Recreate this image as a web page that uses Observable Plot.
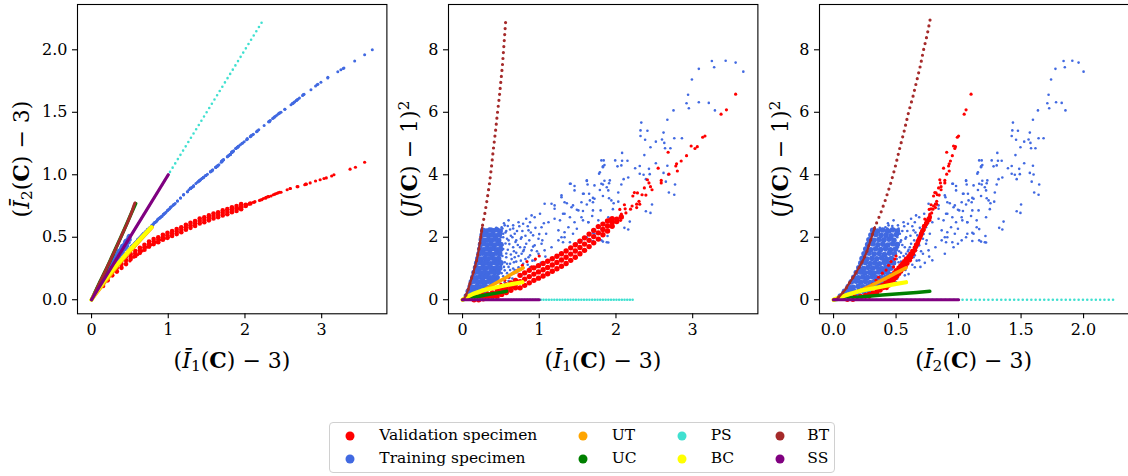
<!DOCTYPE html>
<html><head><meta charset="utf-8">
<script src="https://cdn.jsdelivr.net/npm/d3@7"></script>
<script src="https://cdn.jsdelivr.net/npm/@observablehq/plot@0.6"></script>
<style>
body{margin:0;background:#fff;}
#fig{position:relative;width:1128px;height:476px;overflow:hidden;font-family:"DejaVu Serif",serif;color:#000;background:#fff;}
.panel{position:absolute;top:0;}
.panel text{font-family:"DejaVu Serif",serif !important;font-size:16px;}
.xlab,.ylab{position:absolute;font-size:22px;white-space:nowrap;line-height:1;}
.xlab{transform:translate(-50%,-50%);}
.ylab{transform:translate(-50%,-50%) rotate(-90deg);}
sub{font-size:70%;vertical-align:-0.25em;line-height:0}
sup{font-size:70%;vertical-align:0.5em;line-height:0}
#legend{position:absolute;left:329px;top:422px;width:506px;height:51px;border:1px solid #d0d0d0;border-radius:4px;box-sizing:border-box;background:#fff}
.lm{position:absolute;width:9px;height:9px;border-radius:50%;transform:translate(-50%,-50%)}
.lt{position:absolute;font-size:15.5px;transform:translateY(-50%);white-space:nowrap;line-height:1}
</style></head><body><div id="fig"></div>
<script>
// ---------- data: each point is [I1-3, I2-3, (J-1)^2] ----------
const trainCore = [
[0.265,0.313,2.22],[0.31,0.353,2.20],[0.355,0.392,2.23],[0.40,0.432,2.21],[0.445,0.472,2.24],[0.49,0.511,2.20],
[0.255,0.299,2.07],[0.30,0.339,2.09],[0.345,0.380,2.06],[0.39,0.420,2.08],[0.435,0.461,2.05],[0.48,0.502,2.09],
[0.245,0.283,1.92],[0.29,0.323,1.90],[0.335,0.363,1.93],[0.38,0.403,1.91],[0.425,0.443,1.94],[0.47,0.483,1.90],
[0.235,0.273,1.77],[0.28,0.314,1.79],[0.325,0.354,1.76],[0.37,0.394,1.78],[0.415,0.434,1.75],[0.46,0.474,1.79],[0.50,0.51,1.77],
[0.225,0.258,1.62],[0.27,0.298,1.60],[0.315,0.337,1.63],[0.36,0.377,1.61],[0.405,0.416,1.64],[0.45,0.456,1.60],[0.495,0.496,1.62],
[0.215,0.244,1.47],[0.26,0.284,1.49],[0.305,0.325,1.46],[0.35,0.365,1.48],[0.395,0.406,1.45],[0.44,0.446,1.49],[0.485,0.487,1.47],
[0.20,0.228,1.32],[0.245,0.267,1.30],[0.29,0.307,1.33],[0.335,0.346,1.31],[0.38,0.385,1.34],[0.425,0.424,1.30],[0.47,0.464,1.32],
[0.185,0.218,1.17],[0.23,0.255,1.19],[0.275,0.293,1.16],[0.32,0.33,1.18],[0.365,0.367,1.15],[0.41,0.405,1.19],[0.455,0.442,1.17],[0.50,0.48,1.18],
[0.17,0.202,1.02],[0.215,0.239,1.00],[0.26,0.275,1.03],[0.305,0.312,1.01],[0.35,0.348,1.04],[0.395,0.385,1.00],[0.44,0.421,1.02],[0.485,0.458,1.01],
[0.15,0.182,0.87],[0.195,0.218,0.89],[0.24,0.253,0.86],[0.285,0.289,0.88],[0.33,0.325,0.85],[0.375,0.361,0.89],[0.42,0.397,0.87],[0.465,0.432,0.88],
[0.135,0.162,0.72],[0.18,0.198,0.70],[0.225,0.235,0.73],[0.27,0.271,0.71],[0.315,0.307,0.74],[0.36,0.343,0.70],[0.405,0.38,0.72],[0.45,0.416,0.71],
[0.115,0.142,0.57],[0.16,0.18,0.59],[0.205,0.217,0.56],[0.25,0.254,0.58],[0.295,0.292,0.55],[0.34,0.329,0.59],[0.385,0.366,0.57],[0.43,0.403,0.58],
[0.10,0.118,0.42],[0.145,0.157,0.40],[0.19,0.197,0.43],[0.235,0.236,0.41],[0.28,0.275,0.44],[0.325,0.315,0.40],[0.37,0.354,0.42],
[0.075,0.088,0.27],[0.12,0.127,0.29],[0.165,0.166,0.26],[0.21,0.205,0.28],[0.255,0.244,0.25],[0.30,0.283,0.29],
[0.05,0.055,0.12],[0.095,0.098,0.14],[0.14,0.142,0.11],[0.185,0.186,0.13]
];
const trainSparse = [
[3.25,1.84,7.64],[3.43,1.91,7.65],[3.56,1.96,7.59],[3.66,2.0,7.30],[3.28,1.85,7.44],[3.08,1.775,7.39],[2.99,1.74,7.05],[2.94,1.72,6.56],
[2.92,1.71,6.29],[2.95,1.725,6.13],[3.08,1.78,6.32],[3.21,1.825,6.30],[3.29,1.855,6.06],[2.75,1.635,6.06],[2.67,1.595,5.76],[2.33,1.435,5.67],
[2.32,1.43,5.42],[2.41,1.475,5.41],[2.32,1.425,5.24],[2.38,1.46,5.12],[2.62,1.57,5.35],[2.76,1.64,5.17],[2.86,1.68,5.17],[2.60,1.56,5.13],
[2.63,1.575,5.02],[2.52,1.525,5.06],[2.45,1.495,4.88],[2.64,1.58,4.85],[2.71,1.615,4.85],[2.37,1.455,4.63],[2.08,1.31,4.70],[2.08,1.315,4.45],
[2.15,1.345,4.45],[1.84,1.185,4.46],[1.85,1.19,4.31],[1.83,1.18,4.27],[2.02,1.28,4.27],[2.07,1.305,4.30],[2.25,1.395,4.21],[2.31,1.425,4.28],
[2.43,1.485,4.19],[2.52,1.525,4.37],[2.67,1.595,4.29],[2.31,1.425,4.03],[2.36,1.45,4.00],[2.44,1.49,4.02],[2.62,1.57,4.06],[2.68,1.60,4.01],
[1.78,1.15,4.03],[1.62,1.06,3.80],[1.63,1.065,3.69],[1.41,0.955,3.71],[1.46,0.98,3.64],[1.85,1.19,3.81],[1.83,1.185,3.69],[1.91,1.225,3.73],
[2.07,1.305,3.69],[2.16,1.35,3.91],[2.10,1.32,3.86],[2.39,1.465,3.86],[2.65,1.585,3.78],[2.77,1.645,3.69],[2.69,1.605,3.43],[2.76,1.64,3.36],
[2.47,1.50,3.05],[2.39,1.465,2.83],[2.45,1.495,2.78],[2.18,1.36,2.50],[2.11,1.325,2.30],[2.16,1.35,2.25],[1.89,1.215,2.04],[1.83,1.18,1.86],
[1.90,1.22,1.83],[1.70,1.11,1.88],[1.81,1.165,2.26],[1.77,1.145,2.54],[1.69,1.10,2.68],[1.80,1.16,2.86],[1.96,1.25,2.90],[1.97,1.255,3.09],
[2.03,1.285,3.14],[1.91,1.225,3.25],[1.83,1.18,3.32],[1.79,1.155,3.51],[1.90,1.22,3.50],[2.03,1.29,3.43],[1.70,1.11,3.26],[1.65,1.075,3.39],
[1.58,1.04,3.39],[1.70,1.105,3.12],[1.62,1.06,3.05],[1.57,1.035,2.84],[1.49,0.995,2.88],[1.44,0.97,3.02],[1.36,0.93,3.09],[1.29,0.89,3.34],
[1.31,0.90,2.75],[1.40,0.95,2.64],[1.57,1.03,2.54],[1.64,1.07,2.48],[1.49,0.995,2.27],[1.44,0.97,2.11],[1.33,0.91,2.16],[1.29,0.89,2.00],
[1.70,1.11,2.14],[1.62,1.06,2.00],[1.27,0.88,2.54],[1.31,0.90,1.84],[1.40,0.95,1.84],[1.49,0.995,1.79],
[0.83,0.62,2.59],[0.90,0.66,2.70],[1.01,0.725,2.75],[1.07,0.76,3.07],[1.16,0.815,3.07],[1.20,0.84,3.02],[1.29,0.895,3.28],[1.33,0.91,3.12],
[1.40,0.95,3.71],[1.46,0.98,3.50],[1.42,0.96,2.96],[1.51,1.005,2.86],[1.57,1.035,3.39],[1.62,1.06,3.82],[1.66,1.08,3.18],[1.72,1.12,3.23],
[1.70,1.11,2.86],[1.79,1.155,4.08],[1.83,1.18,4.24],[1.81,1.165,4.46],[1.81,1.165,3.71],[1.88,1.21,3.60],[1.92,1.23,3.82],[1.94,1.24,3.18],
[1.90,1.22,2.64],[1.77,1.145,2.32],[1.81,1.165,1.90],[1.88,1.21,1.84],[1.72,1.12,2.11],[1.64,1.07,2.48],[1.55,1.025,2.64],[1.46,0.98,2.48],
[1.38,0.94,2.32],[1.33,0.91,2.00],[1.25,0.865,2.22],[1.20,0.84,2.59],[1.12,0.79,2.48],[1.03,0.74,2.32],[1.09,0.77,2.11],[0.99,0.715,1.95],
[0.92,0.67,2.06],[0.86,0.64,2.22],[0.79,0.595,2.43],[0.73,0.56,2.48],[0.66,0.515,2.38],[0.60,0.48,2.54],[0.55,0.44,2.38],[0.51,0.415,2.32],
[0.44,0.37,2.30],[0.38,0.33,2.27],[0.68,0.53,2.11],[0.77,0.58,2.00],[0.83,0.62,1.79],[0.75,0.57,1.68],[0.90,0.66,1.58],[0.99,0.715,1.47],
[1.07,0.76,1.58],[1.16,0.815,1.68],[1.25,0.865,1.90],[1.03,0.74,1.79],[0.94,0.685,1.26],[0.86,0.64,1.36],[0.79,0.595,1.15],[0.88,0.65,1.04],
[0.77,0.58,1.47],[0.68,0.53,1.36],[0.66,0.515,1.68],[0.60,0.48,1.90],[0.70,0.54,1.90],[0.81,0.61,1.68],[0.94,0.685,1.74],[0.62,0.49,1.15],
[0.73,0.56,1.04],[0.64,0.50,0.83],[0.75,0.57,0.78],[0.55,0.44,0.94],[0.51,0.415,1.58],[0.53,0.43,2.11],[0.57,0.455,1.36],[0.47,0.39,1.90],
[0.49,0.40,1.26],[0.55,0.44,0.56],[0.64,0.50,0.56],[0.42,0.355,0.72],[1.12,0.79,1.26],[1.29,0.89,1.47],[1.42,0.96,1.68],[1.55,1.025,1.90],
[1.64,1.07,2.11],[1.99,1.265,4.46],[1.72,1.12,3.66],[1.55,1.025,3.12],[1.33,0.91,2.75],[1.20,0.84,2.91],[0.94,0.685,2.64],[0.88,0.65,2.48],
[0.52,0.42,1.75],[0.58,0.46,1.95],[0.62,0.49,2.25],[0.57,0.455,2.20],[0.65,0.51,2.00],[0.59,0.47,1.60],[0.63,0.495,1.45],[0.55,0.44,1.20],
[0.60,0.48,1.05],[0.67,0.52,1.20],[0.53,0.43,0.75],[0.58,0.46,0.85],[0.70,0.54,1.50],[0.72,0.55,1.75],[0.54,0.435,2.45],[0.50,0.41,2.00],
[0.52,0.42,1.40],[0.68,0.53,0.95],[0.61,0.485,0.70],[0.56,0.45,1.80],
[0.52,0.43,2.28],[0.56,0.45,2.15],[0.59,0.47,2.36],[0.63,0.50,2.05],[0.66,0.52,2.28],[0.69,0.535,1.85],[0.71,0.55,2.20],[0.74,0.565,2.35],
[0.76,0.575,1.95],[0.78,0.59,2.20],[0.80,0.60,1.60],[0.82,0.615,2.05],[0.85,0.63,2.35],[0.87,0.645,1.90],[0.89,0.655,2.15],[0.92,0.67,1.70],
[0.95,0.69,2.30],[0.97,0.70,1.55],[1.00,0.72,2.10],[1.04,0.745,1.90],[1.06,0.755,2.45],[0.53,0.43,1.62],[0.57,0.455,1.48],[0.61,0.485,1.78],
[0.64,0.505,1.30],[0.67,0.525,1.55],[0.70,0.54,1.22],[0.73,0.56,1.40],[0.76,0.575,1.25],[0.79,0.595,1.55],[0.82,0.615,1.30],[0.85,0.63,1.12],
[0.88,0.65,1.42],[0.91,0.665,1.25],[0.96,0.695,1.05],[1.02,0.73,1.18],[1.08,0.765,1.38],[0.54,0.435,1.05],[0.58,0.46,1.15],[0.62,0.49,0.95],
[0.66,0.515,1.00],[0.71,0.545,0.88],[0.76,0.575,0.95],[0.80,0.60,0.82],[0.57,0.455,0.72],[0.60,0.475,0.60],[0.65,0.51,0.68],[0.51,0.415,0.85],
[0.50,0.41,1.10],[0.53,0.43,2.00]
];
const valCore = [
[0.15,0.11,0.0],[0.15,0.14,0.03],[0.15,0.17,0.09],
[0.21,0.155,0.0],[0.21,0.185,0.06],[0.21,0.215,0.12],
[0.27,0.195,0.03],[0.27,0.225,0.09],[0.27,0.255,0.15],
[0.33,0.225,0.06],[0.33,0.255,0.12],[0.33,0.285,0.18],
[0.39,0.255,0.10],[0.39,0.285,0.16],[0.39,0.315,0.22],
[0.45,0.285,0.10],[0.45,0.315,0.22],[0.45,0.345,0.34],
[0.51,0.325,0.17],[0.51,0.345,0.29],[0.51,0.365,0.41],
[0.57,0.35,0.23],[0.57,0.37,0.35],[0.57,0.39,0.47],
[0.63,0.375,0.30],[0.63,0.395,0.42],[0.63,0.415,0.54],
[0.69,0.40,0.38],[0.69,0.42,0.50],[0.69,0.44,0.62],
[0.75,0.425,0.38],[0.75,0.445,0.58],[0.75,0.465,0.78],
[0.81,0.445,0.46],[0.81,0.465,0.66],[0.81,0.485,0.86],
[0.87,0.46,0.54],[0.87,0.48,0.74],[0.87,0.50,0.94],
[0.93,0.48,0.62],[0.93,0.50,0.82],[0.93,0.52,1.02],
[0.99,0.495,0.69],[0.99,0.515,0.89],[0.99,0.535,1.09],
[1.05,0.51,0.76],[1.05,0.53,0.96],[1.05,0.55,1.16],
[1.11,0.525,0.83],[1.11,0.545,1.03],[1.11,0.565,1.23],
[1.17,0.54,0.91],[1.17,0.56,1.11],[1.17,0.58,1.31],
[1.23,0.56,0.99],[1.23,0.58,1.19],[1.23,0.60,1.39],
[1.29,0.575,1.07],[1.29,0.595,1.27],[1.29,0.615,1.47],
[1.35,0.59,1.16],[1.35,0.61,1.36],[1.35,0.63,1.56],
[1.41,0.61,1.26],[1.41,0.63,1.46],[1.41,0.65,1.66],
[1.47,0.62,1.36],[1.47,0.64,1.56],[1.47,0.66,1.76],
[1.53,0.635,1.47],[1.53,0.655,1.67],[1.53,0.675,1.87],
[1.59,0.65,1.58],[1.59,0.67,1.78],[1.59,0.69,1.98],
[1.65,0.66,1.70],[1.65,0.68,1.90],[1.65,0.70,2.10],
[1.71,0.675,1.82],[1.71,0.695,2.02],[1.71,0.715,2.22],
[1.77,0.685,1.94],[1.77,0.705,2.14],[1.77,0.725,2.34],
[1.83,0.70,2.08],[1.83,0.72,2.25],[1.83,0.74,2.42],
[1.89,0.71,2.20],[1.89,0.73,2.36],[1.89,0.75,2.52],
[1.95,0.725,2.35],[1.95,0.745,2.47],[1.95,0.765,2.59],
[2.01,0.75,2.50],[2.01,0.76,2.58],[2.07,0.77,2.65]
];
const valSparse = [
[3.56,1.10,6.58],[3.44,1.06,6.08],[3.37,1.045,5.94],[3.16,1.0,5.24],[3.13,0.99,5.20],[3.06,0.975,4.90],[3.03,0.97,4.84],[2.98,0.96,4.92],
[2.92,0.95,4.61],[2.85,0.935,4.44],[2.79,0.925,4.35],[2.78,0.92,4.28],[2.80,0.925,4.12],[2.68,0.905,4.72],[2.69,0.905,4.02],[2.55,0.88,4.21],
[2.59,0.89,3.82],[2.59,0.89,3.74],[2.41,0.85,3.84],[2.43,0.855,3.74],[2.45,0.86,3.62],[2.47,0.86,3.52],[2.37,0.84,3.58],[2.24,0.81,3.43],
[2.28,0.82,3.42],[2.39,0.845,3.35],[2.34,0.83,3.36],[2.22,0.80,3.32],[2.30,0.825,3.15],[2.27,0.815,3.06],[2.31,0.825,3.06],[2.27,0.815,2.95],
[2.21,0.80,3.00],[2.19,0.795,2.90],[2.11,0.78,3.04],[2.12,0.78,2.91],[2.05,0.765,2.89],[2.13,0.785,2.78],[2.07,0.77,2.74],[2.02,0.76,2.54],
[2.06,0.77,2.54],[1.96,0.74,2.48],[1.92,0.73,2.58],
[0.78,0.44,1.10],[0.84,0.46,1.22],[0.90,0.48,1.05],[0.72,0.42,0.95],[0.66,0.39,0.85],[0.60,0.36,0.72],[0.55,0.34,0.62],[0.95,0.49,1.30],
[1.00,0.50,1.40],[0.50,0.31,0.50]
];
// deformation modes
const utI1 = [0,0.1,0.2,0.3,0.42,0.55,0.67,0.79];
const utI2 = [0,0.08,0.16,0.24,0.33,0.42,0.50,0.58];
const utJ2 = [0,0.09,0.21,0.34,0.51,0.69,0.86,1.02];
const ucI1 = [0,0.1,0.2,0.3,0.4,0.5,0.575];
const ucI2 = [0,0.13,0.255,0.39,0.525,0.665,0.77];
const ucJ2 = [0,0.055,0.105,0.15,0.195,0.235,0.27];
const psI1 = [0,2.25];
const psI2 = [0,2.25];
const psJ2 = [0,0];
const bcI1 = [0,0.05,0.15,0.25,0.36,0.5,0.64,0.78];
const bcI2 = [0,0.05,0.14,0.22,0.30,0.40,0.49,0.58];
const bcJ2 = [0,0.08,0.2,0.29,0.35,0.43,0.5,0.56];
const btI1 = [0,0.02,0.04,0.07,0.095,0.13,0.16,0.19,0.21,0.235,0.256,0.29,0.32,0.35,0.375,0.40,0.43,0.456,0.48,0.50,0.52,0.535,0.55,0.565];
const btI2 = [0,0.025,0.05,0.09,0.122,0.167,0.205,0.243,0.27,0.30,0.33,0.375,0.415,0.455,0.49,0.525,0.565,0.60,0.635,0.665,0.695,0.72,0.75,0.774];
const btJ2 = [0,0.03,0.12,0.3,0.51,0.78,1.04,1.32,1.58,1.95,2.32,2.75,3.2,3.7,4.2,4.78,5.4,6.0,6.5,7.0,7.5,8.0,8.5,9.0];
const ssI1 = [0,1];
const ssI2 = [0,1];
const ssJ2 = [0,0];
// axes ticks
const ticksI1 = [0,1,2,3];
const ticksI2 = [0,0.5,1,1.5,2];
const ticksJ2 = [0,2,4,6,8];
// legend
const legendLabels = ["Validation specimen","Training specimen","UT","UC","PS","BC","BT","SS"];
const legendColors = ["#ff0000","#4169e1","#ffa500","#008000","#40e0d0","#ffff00","#a52a2a","#800080"];

// ---------- build ----------
const rows = a => a.map(([i1,i2,j2]) => ({i1,i2,j2}));
const modeRows = (a,b,c) => a.map((v,k) => ({i1:v,i2:b[k],j2:c[k]}));
const TC = rows(trainCore), TS = rows(trainSparse), VC = rows(valCore), VS = rows(valSparse);
const UT = modeRows(utI1,utI2,utJ2), UC = modeRows(ucI1,ucI2,ucJ2), PS = modeRows(psI1,psI2,psJ2),
      BC = modeRows(bcI1,bcI2,bcJ2), BT = modeRows(btI1,btI2,btJ2), SS = modeRows(ssI1,ssI2,ssJ2);

const FW = 309.4, FH = 309.3, ML = 60, MR = 12, MT = 4, MB = 52;
const panels = [
  {left:77.3, x:"i1", y:"i2", xdom:[-0.183,3.85], ydom:[-0.1125,2.3625], xt:ticksI1, xf:d3.format("d"), yt:ticksI2, yf:d3.format(".1f"), cr:2.0, vr:2.3, sr:1.5, ps:"0 5", p1:true},
  {left:448.3, x:"i1", y:"j2", xdom:[-0.183,3.85], ydom:[-0.45,9.45], xt:ticksI1, xf:d3.format("d"), yt:ticksJ2, yf:d3.format("d"), cr:2.8, vr:2.7, sr:1.3, ps:"0 2.7", p1:false},
  {left:819, x:"i2", y:"j2", xdom:[-0.1125,2.3625], ydom:[-0.45,9.45], xt:ticksI2, xf:d3.format(".1f"), yt:ticksJ2, yf:d3.format("d"), cr:2.8, vr:2.3, sr:1.3, ps:"0 4.3", p1:false}
];
const fig = document.getElementById("fig");
for (const p of panels) {
  const c = legendColors;
  const btMarks = p.p1
    ? [Plot.line(BT, {x:p.x, y:p.y, stroke:c[6], strokeWidth:3, strokeLinecap:"round"})]
    : [Plot.line(BT, {x:p.x, y:p.y, stroke:c[6], strokeWidth:3.2, strokeLinecap:"round", strokeDasharray:"0 6"}),
       Plot.line(BT, {filter:d => d.j2 <= 2.4, x:p.x, y:p.y, stroke:c[6], strokeWidth:2.2, strokeLinecap:"round"})];
  const chart = Plot.plot({
    width: ML + FW + MR, height: MT + FH + MB,
    marginLeft: ML, marginRight: MR, marginTop: MT, marginBottom: MB,
    x: {domain: p.xdom, inset: 0}, y: {domain: p.ydom, inset: 0},
    style: {fontFamily: "'DejaVu Serif', serif", fontSize: "16px", color: "#000", background: "transparent", overflow: "visible"},
    marks: [
      Plot.axisX({ticks: p.xt, tickFormat: p.xf, tickSize: 5, tickPadding: 5, label: null, fontSize: 16, fontFamily: "DejaVu Serif", strokeWidth: 1.1}),
      Plot.axisY({ticks: p.yt, tickFormat: p.yf, tickSize: 5, tickPadding: 5, label: null, fontSize: 16, fontFamily: "DejaVu Serif", strokeWidth: 1.1}),
      Plot.dot(TC, {x:p.x, y:p.y, r:p.cr, fill:c[1]}),
      Plot.dot(TS, {x:p.x, y:p.y, r:p.sr, fill:c[1]}),
      Plot.dot(VC, {x:p.x, y:p.y, r:p.vr, fill:c[0]}),
      Plot.dot(VS, {x:p.x, y:p.y, r:1.6, fill:c[0]}),
      Plot.line(UT, {x:p.x, y:p.y, stroke:c[2], strokeWidth:3.5, strokeLinecap:"round"}),
      Plot.line(UC, {x:p.x, y:p.y, stroke:c[3], strokeWidth:3.5, strokeLinecap:"round"}),
      Plot.line(PS, {x:p.x, y:p.y, stroke:c[4], strokeWidth:2.6, strokeLinecap:"round", strokeDasharray:p.ps}),
      Plot.line(BC, {x:p.x, y:p.y, stroke:c[5], strokeWidth:4.2, strokeLinecap:"round"}),
      ...btMarks,
      Plot.line(SS, {x:p.x, y:p.y, stroke:c[7], strokeWidth:3.2, strokeLinecap:"round"}),
      Plot.frame({stroke:"#000", strokeWidth:1.1})
    ]
  });
  chart.classList.add("panel");
  chart.style.left = (p.left - ML) + "px";
  d3.select(chart).selectAll("text").attr("font-family", "DejaVu Serif").style("font-family", "'DejaVu Serif', serif");
  fig.appendChild(chart);
}
// axis labels (mathtext-like)
const lab = (cls, html, x, y) => { const d = document.createElement("div"); d.className = cls; d.innerHTML = html; d.style.left = x + "px"; d.style.top = y + "px"; fig.appendChild(d); };
const lI1 = "(<i>Ī</i><sub>1</sub>(<b>C</b>) − 3)";
const lI2 = "(<i>Ī</i><sub>2</sub>(<b>C</b>) − 3)";
const lJ = "(<i>J</i>(<b>C</b>) − 1)<sup>2</sup>";
lab("xlab", lI1, 77.3 + FW/2, 360);
lab("xlab", lI1, 448.3 + FW/2, 360);
lab("xlab", lI2, 819 + FW/2, 360);
lab("ylab", lI2, 21, 158.7);
lab("ylab", lJ, 409, 158.7);
lab("ylab", lJ, 779.5, 158.7);
// legend
const lg = document.createElement("div"); lg.id = "legend"; fig.appendChild(lg);
const colMarker = [350, 583.3, 682.3, 780], colText = [379.3, 611.7, 710.7, 807.3], rowY = [436, 458.7];
legendLabels.forEach((t, k) => {
  const col = Math.floor(k / 2), row = k % 2;
  const m = document.createElement("div"); m.className = "lm"; m.style.background = legendColors[k];
  m.style.left = colMarker[col] + "px"; m.style.top = rowY[row] + "px"; fig.appendChild(m);
  const s = document.createElement("div"); s.className = "lt"; s.textContent = t;
  s.style.left = colText[col] + "px"; s.style.top = rowY[row] + "px"; fig.appendChild(s);
});
</script></body></html>
